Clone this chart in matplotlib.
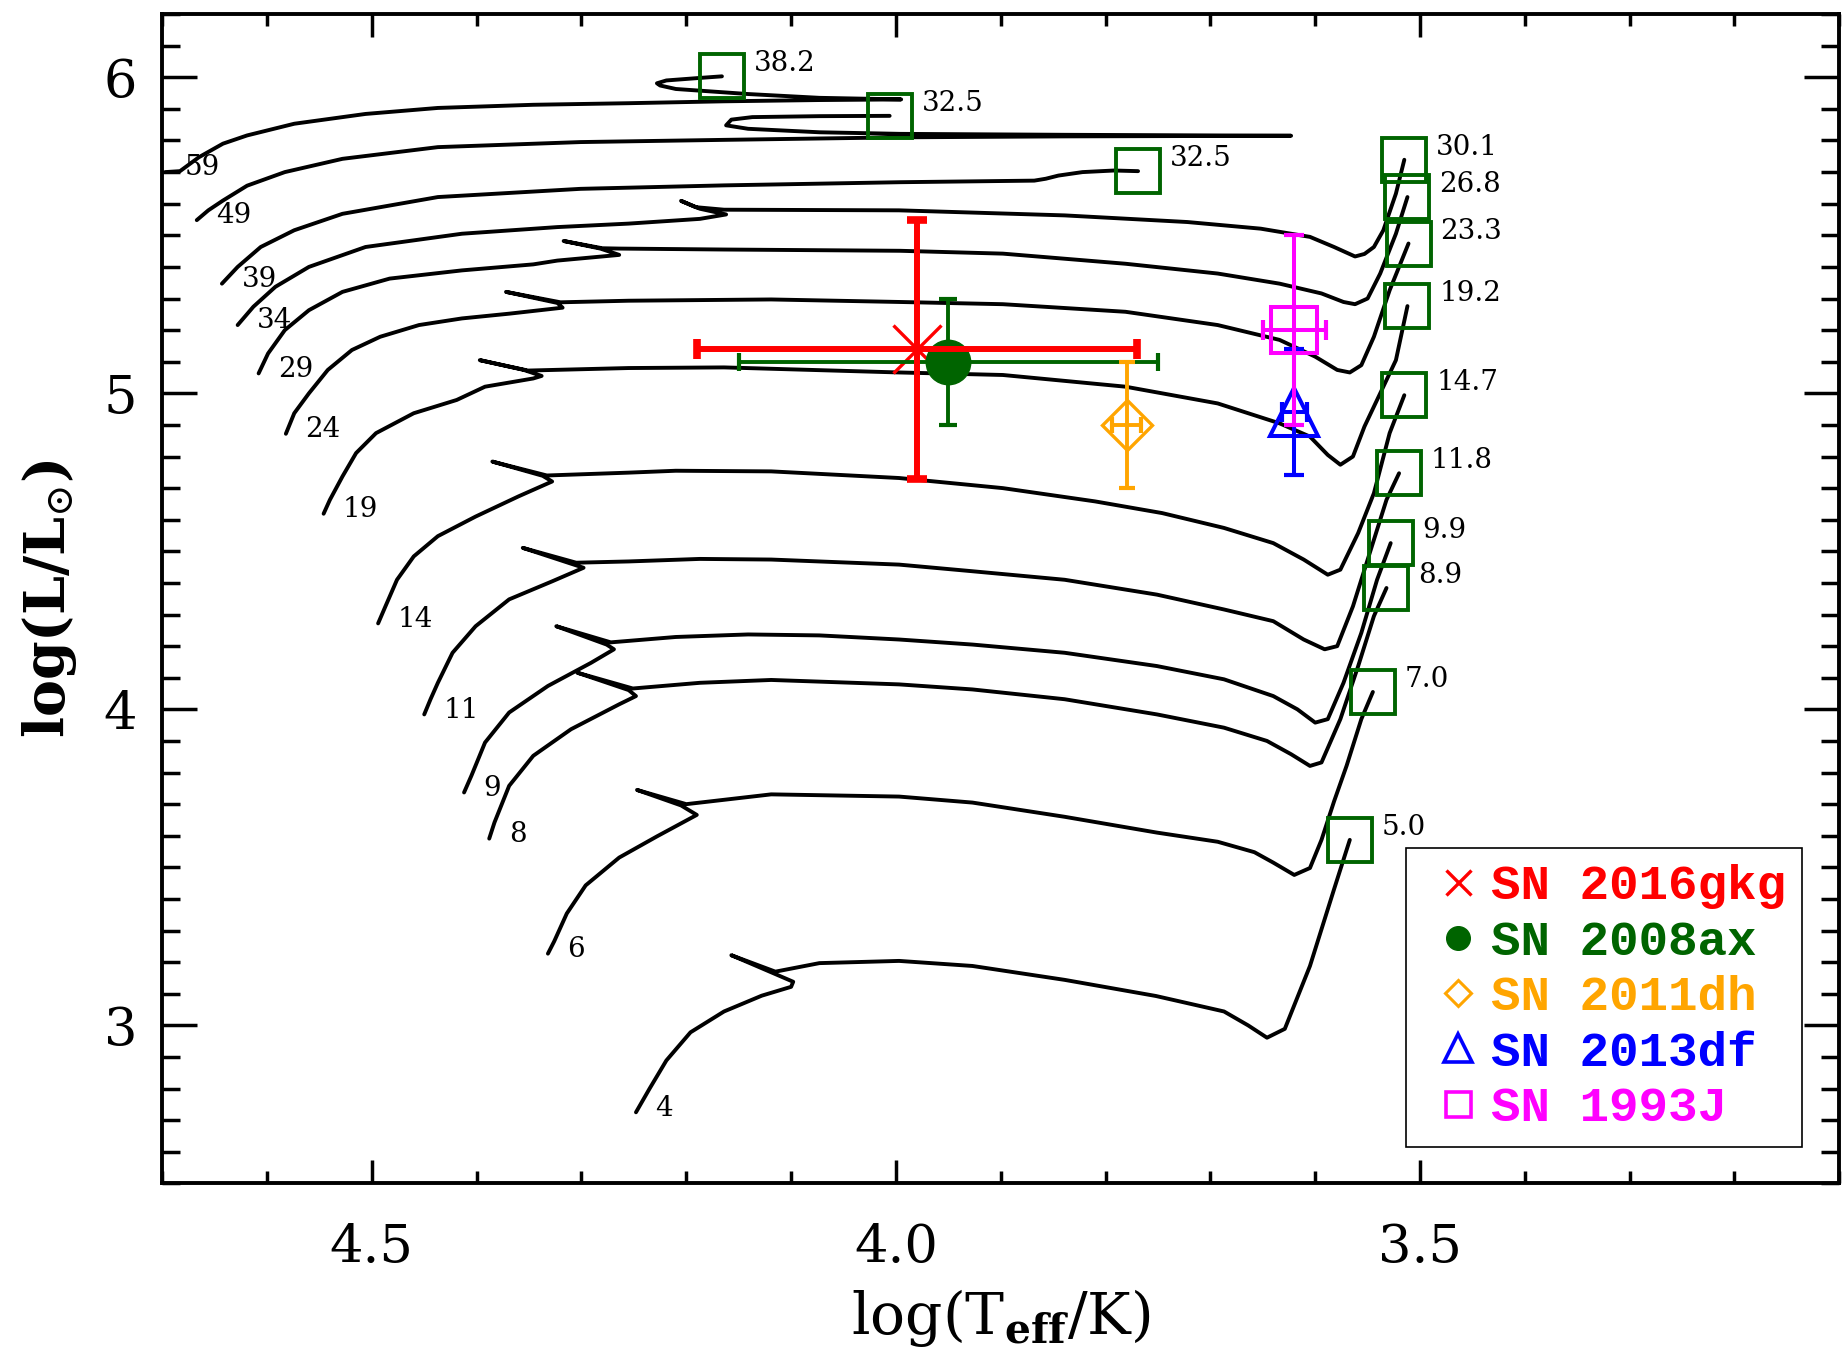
import matplotlib
matplotlib.use('Agg')
import matplotlib.pyplot as plt
from matplotlib.lines import Line2D
from matplotlib.ticker import MultipleLocator, FormatStrFormatter

plt.rcParams['font.family'] = 'DejaVu Serif'
plt.rcParams['mathtext.fontset'] = 'dejavuserif'

# evolutionary tracks, (log Teff, log L)
track_59 = [(4.697, 5.700), (4.683, 5.703), (4.665, 5.747), (4.642, 5.790), (4.619, 5.816),
            (4.574, 5.853), (4.506, 5.884), (4.437, 5.903), (4.346, 5.913), (4.255, 5.918),
            (4.164, 5.924), (4.073, 5.928), (3.995, 5.930), (4.073, 5.935), (4.141, 5.947),
            (4.210, 5.963), (4.225, 5.974), (4.228, 5.981), (4.219, 5.990), (4.187, 5.998),
            (4.166, 6.003)]
track_49 = [(4.667, 5.548), (4.656, 5.579), (4.642, 5.610), (4.619, 5.657), (4.583, 5.700),
            (4.528, 5.742), (4.437, 5.779), (4.301, 5.795), (4.164, 5.802), (3.996, 5.810),
            (3.839, 5.813), (3.623, 5.815), (3.839, 5.818), (3.996, 5.821), (4.073, 5.826),
            (4.141, 5.837), (4.162, 5.848), (4.157, 5.866), (4.137, 5.874), (4.073, 5.877),
            (4.006, 5.878)]
track_39 = [(4.643, 5.347), (4.628, 5.400), (4.606, 5.463), (4.574, 5.516), (4.528, 5.568),
            (4.437, 5.621), (4.301, 5.647), (4.164, 5.658), (3.996, 5.668), (3.868, 5.673),
            (3.857, 5.679), (3.845, 5.689), (3.822, 5.700), (3.792, 5.705), (3.769, 5.703)]
track_34 = [(4.628, 5.216), (4.613, 5.274), (4.592, 5.337), (4.560, 5.400), (4.506, 5.463),
            (4.414, 5.505), (4.323, 5.526), (4.255, 5.537), (4.187, 5.552), (4.162, 5.566),
            (4.187, 5.584), (4.205, 5.609), (4.191, 5.589), (4.164, 5.581), (3.997, 5.579),
            (3.839, 5.563), (3.722, 5.542), (3.652, 5.521), (3.605, 5.495), (3.582, 5.463),
            (3.562, 5.433), (3.553, 5.441), (3.544, 5.463), (3.535, 5.516), (3.523, 5.632),
            (3.515, 5.739)]
track_29 = [(4.608, 5.063), (4.599, 5.126), (4.583, 5.200), (4.560, 5.263), (4.528, 5.321),
            (4.483, 5.363), (4.414, 5.389), (4.346, 5.408), (4.323, 5.420), (4.264, 5.438),
            (4.282, 5.458), (4.317, 5.482), (4.280, 5.459), (4.264, 5.458), (4.164, 5.455),
            (3.996, 5.451), (3.898, 5.442), (3.781, 5.410), (3.693, 5.379), (3.634, 5.347),
            (3.594, 5.316), (3.573, 5.289), (3.562, 5.282), (3.550, 5.300), (3.538, 5.379),
            (3.523, 5.505), (3.512, 5.621)]
track_24 = [(4.582, 4.872), (4.574, 4.937), (4.560, 5.000), (4.542, 5.074), (4.519, 5.137),
            (4.492, 5.179), (4.455, 5.216), (4.414, 5.237), (4.369, 5.252), (4.318, 5.271),
            (4.323, 5.286), (4.372, 5.321), (4.320, 5.288), (4.255, 5.293), (4.119, 5.297),
            (3.996, 5.289), (3.898, 5.282), (3.781, 5.258), (3.693, 5.216), (3.634, 5.169),
            (3.600, 5.116), (3.579, 5.074), (3.567, 5.066), (3.556, 5.089), (3.544, 5.179),
            (3.529, 5.326), (3.511, 5.474)]
track_19 = [(4.546, 4.619), (4.540, 4.663), (4.528, 4.737), (4.515, 4.811), (4.496, 4.874),
            (4.460, 4.937), (4.419, 4.979), (4.392, 5.021), (4.346, 5.047), (4.338, 5.055),
            (4.355, 5.074), (4.397, 5.105), (4.351, 5.072), (4.255, 5.080), (4.164, 5.082),
            (3.997, 5.066), (3.898, 5.058), (3.781, 5.021), (3.693, 4.968), (3.634, 4.905),
            (3.605, 4.863), (3.588, 4.805), (3.576, 4.774), (3.564, 4.800), (3.553, 4.895),
            (3.541, 4.979), (3.523, 5.105), (3.512, 5.276)]
track_14 = [(4.494, 4.272), (4.487, 4.326), (4.476, 4.410), (4.460, 4.484), (4.437, 4.548),
            (4.401, 4.610), (4.360, 4.674), (4.328, 4.721), (4.337, 4.739), (4.385, 4.784),
            (4.333, 4.740), (4.255, 4.749), (4.210, 4.755), (4.119, 4.753), (3.997, 4.732),
            (3.898, 4.700), (3.810, 4.658), (3.746, 4.621), (3.687, 4.574), (3.640, 4.526),
            (3.611, 4.474), (3.588, 4.426), (3.576, 4.442), (3.559, 4.558), (3.544, 4.684),
            (3.529, 4.874), (3.515, 4.994)]
track_11 = [(4.450, 3.984), (4.444, 4.032), (4.437, 4.084), (4.423, 4.179), (4.401, 4.263),
            (4.369, 4.348), (4.328, 4.405), (4.298, 4.448), (4.310, 4.461), (4.356, 4.511),
            (4.305, 4.464), (4.255, 4.468), (4.187, 4.476), (4.119, 4.474), (3.997, 4.458),
            (3.927, 4.437), (3.839, 4.410), (3.751, 4.363), (3.687, 4.316), (3.640, 4.279),
            (3.611, 4.221), (3.591, 4.190), (3.579, 4.200), (3.564, 4.326), (3.547, 4.505),
            (3.532, 4.663), (3.520, 4.747)]
track_9 = [(4.412, 3.737), (4.405, 3.790), (4.392, 3.895), (4.369, 3.990), (4.332, 4.074),
           (4.291, 4.147), (4.269, 4.190), (4.276, 4.205), (4.324, 4.263), (4.272, 4.212),
           (4.210, 4.229), (4.141, 4.237), (4.073, 4.234), (3.997, 4.221), (3.927, 4.205),
           (3.839, 4.179), (3.751, 4.137), (3.687, 4.095), (3.640, 4.042), (3.617, 4.000),
           (3.600, 3.958), (3.588, 3.969), (3.573, 4.084), (3.556, 4.242), (3.541, 4.410),
           (3.528, 4.526)]
track_8 = [(4.388, 3.591), (4.383, 3.642), (4.369, 3.758), (4.346, 3.853), (4.310, 3.937),
           (4.264, 4.016), (4.248, 4.042), (4.255, 4.061), (4.304, 4.116), (4.251, 4.066),
           (4.187, 4.084), (4.119, 4.093), (3.997, 4.079), (3.927, 4.063), (3.839, 4.032),
           (3.751, 3.984), (3.687, 3.942), (3.646, 3.900), (3.623, 3.858), (3.605, 3.821),
           (3.594, 3.832), (3.576, 3.969), (3.559, 4.137), (3.544, 4.295), (3.532, 4.384)]
track_6 = [(4.332, 3.227), (4.326, 3.266), (4.314, 3.354), (4.296, 3.443), (4.264, 3.531),
           (4.228, 3.598), (4.190, 3.666), (4.205, 3.696), (4.247, 3.745), (4.200, 3.700),
           (4.119, 3.731), (3.997, 3.724), (3.927, 3.705), (3.839, 3.660), (3.751, 3.610),
           (3.693, 3.581), (3.658, 3.548), (3.640, 3.515), (3.620, 3.476), (3.605, 3.498),
           (3.594, 3.587), (3.582, 3.709), (3.570, 3.822), (3.556, 3.969), (3.545, 4.055)]
track_4 = [(4.248, 2.725), (4.235, 2.800), (4.219, 2.889), (4.196, 2.978), (4.164, 3.044),
           (4.128, 3.094), (4.100, 3.122), (4.098, 3.138), (4.119, 3.168), (4.157, 3.222),
           (4.115, 3.170), (4.073, 3.197), (3.997, 3.204), (3.927, 3.188), (3.839, 3.144),
           (3.752, 3.093), (3.687, 3.044), (3.664, 3.000), (3.646, 2.961), (3.629, 2.989),
           (3.605, 3.188), (3.582, 3.431), (3.567, 3.587)]

tracks = [track_59, track_49, track_39, track_34, track_29, track_24, track_19,
          track_14, track_11, track_9, track_8, track_6, track_4]
init_mass = ['59', '49', '39', '34', '29', '24', '19', '14', '11', '9', '8', '6', '4']
final_mass = ['38.2', '32.5', '32.5', '30.1', '26.8', '23.3', '19.2', '14.7', '11.8',
              '9.9', '8.9', '7.0', '5.0']

# progenitor positions
sn_names = ['SN 2016gkg', 'SN 2008ax', 'SN 2011dh', 'SN 2013df', 'SN 1993J']
sn_logT = [3.98, 3.95, 3.78, 3.62, 3.62]
sn_logT_err = [0.21, 0.20, 0.014, 0.012, 0.03]
sn_logL = [5.14, 5.10, 4.90, 4.94, 5.20]
sn_logL_err = [0.41, 0.20, 0.20, 0.20, 0.30]

colors = ['red', 'darkgreen', 'orange', 'blue', 'magenta']

fig = plt.figure(figsize=(18.43, 13.54), dpi=100)
ax = fig.add_axes([0.088, 0.126, 0.910, 0.8636])

for tr, m0, mf in zip(tracks, init_mass, final_mass):
    xs = [p[0] for p in tr]
    ys = [p[1] for p in tr]
    ax.plot(xs, ys, color='black', lw=2.8, solid_joinstyle='round', solid_capstyle='round',
            zorder=2)
    ax.plot(xs[-1], ys[-1], marker='s', ms=32, mfc='none', mec='darkgreen', mew=2.8, zorder=3)
    ax.annotate(mf, (xs[-1], ys[-1]), xytext=(23, 9), textcoords='offset points',
                ha='left', va='center', fontsize=20)
    ax.annotate(m0, (xs[0], ys[0]), xytext=(14, 3), textcoords='offset points',
                ha='left', va='center', fontsize=20)

# SN 2016gkg symbol, then SN 2008ax, then the 2016gkg error bars on top
ax.plot(sn_logT[0], sn_logL[0], marker='x', ms=34, mew=2.4, color=colors[0], ls='none', zorder=4)
ax.errorbar(sn_logT[1], sn_logL[1], xerr=sn_logT_err[1], yerr=sn_logL_err[1], fmt='none',
            ecolor=colors[1], elinewidth=2.8, capsize=6.5, capthick=3, zorder=5)
ax.plot(sn_logT[1], sn_logL[1], marker='o', ms=32, color=colors[1], ls='none', zorder=5)
ax.errorbar(sn_logT[0], sn_logL[0], xerr=sn_logT_err[0], yerr=sn_logL_err[0], fmt='none',
            ecolor=colors[0], elinewidth=4.3, capsize=7, capthick=5.5, zorder=6)

# SN 2011dh
ax.errorbar(sn_logT[2], sn_logL[2], xerr=sn_logT_err[2], yerr=sn_logL_err[2], fmt='none',
            ecolor=colors[2], elinewidth=2.8, capsize=6, capthick=3, zorder=5)
ax.plot(sn_logT[2], sn_logL[2], marker='D', ms=25, mfc='none', mec=colors[2], mew=2.4,
        ls='none', zorder=5)
# SN 2013df
ax.errorbar(sn_logT[3], sn_logL[3], xerr=sn_logT_err[3], yerr=sn_logL_err[3], fmt='none',
            ecolor=colors[3], elinewidth=2.9, capsize=7, capthick=3, zorder=5)
ax.plot(sn_logT[3], sn_logL[3], marker='^', ms=35, mfc='none', mec=colors[3], mew=2.9,
        ls='none', zorder=5)
# SN 1993J
ax.errorbar(sn_logT[4], sn_logL[4], xerr=sn_logT_err[4], yerr=sn_logL_err[4], fmt='none',
            ecolor=colors[4], elinewidth=2.9, capsize=7, capthick=3, zorder=6)
ax.plot(sn_logT[4], sn_logL[4], marker='s', ms=33, mfc='none', mec=colors[4], mew=2.9,
        ls='none', zorder=6)

ax.set_xlim(4.7, 3.1)
ax.set_ylim(2.5, 6.2)
ax.xaxis.set_major_locator(MultipleLocator(0.5))
ax.xaxis.set_minor_locator(MultipleLocator(0.1))
ax.yaxis.set_major_locator(MultipleLocator(1))
ax.yaxis.set_minor_locator(MultipleLocator(0.1))
ax.xaxis.set_major_formatter(FormatStrFormatter('%.1f'))
ax.yaxis.set_major_formatter(FormatStrFormatter('%d'))

ax.tick_params(axis='x', which='major', direction='in', length=16.5, width=2.5,
               top=True, labelsize=38, pad=28)
ax.tick_params(axis='x', which='minor', direction='in', length=8.6, width=2.5, top=True)
ax.tick_params(axis='y', which='major', direction='in', length=25, width=2.5,
               right=True, labelsize=38, pad=18)
ax.tick_params(axis='y', which='minor', direction='in', length=13, width=2.5, right=True)
for s in ax.spines.values():
    s.set_linewidth(2.8)

ax.set_xlabel(r'log(T$_{\mathbf{eff}}$/K)', fontsize=42, labelpad=10)
ax.set_ylabel(r'log(L/L$_{\odot}$)', fontsize=40, fontweight='bold', labelpad=18)

handles = [
    Line2D([], [], ls='none', marker='x', ms=18, mew=2.4, color=colors[0]),
    Line2D([], [], ls='none', marker='o', ms=17, color=colors[1]),
    Line2D([], [], ls='none', marker='D', ms=13, mfc='none', mec=colors[2], mew=2.2),
    Line2D([], [], ls='none', marker='^', ms=20, mfc='none', mec=colors[3], mew=2.6),
    Line2D([], [], ls='none', marker='s', ms=18, mfc='none', mec=colors[4], mew=2.6),
]
leg = ax.legend(handles, sn_names, loc='lower right', bbox_to_anchor=(0.9778, 0.031),
                borderaxespad=0, prop={'family': 'Liberation Mono', 'weight': 'bold', 'size': 35.5},
                labelcolor=colors, frameon=True, fancybox=False, edgecolor='black',
                framealpha=1, borderpad=0.33, labelspacing=0.21, handlelength=1.45,
                handletextpad=-0.05)
leg.get_frame().set_linewidth(1.2)
leg.set_zorder(10)

fig.savefig('out.png', dpi=100)
